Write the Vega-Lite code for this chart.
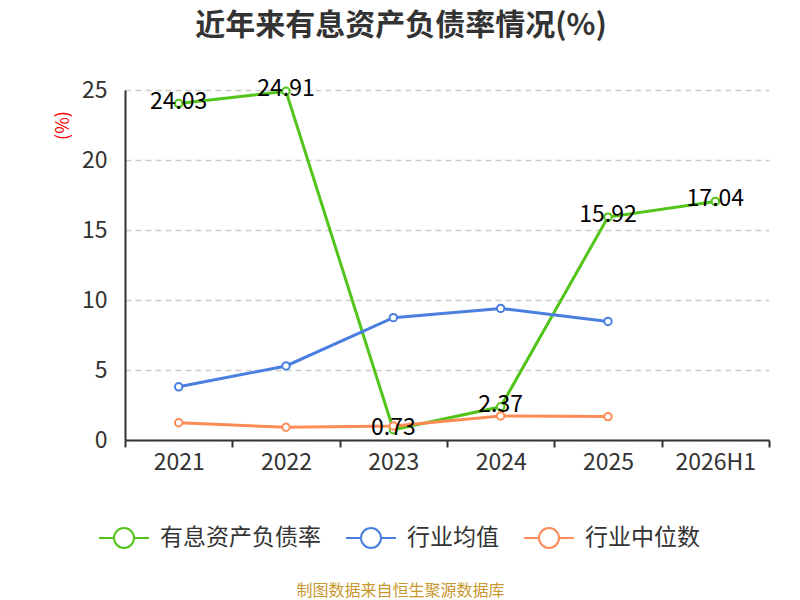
{
  "$schema": "https://vega.github.io/schema/vega-lite/v6.json",
  "width": 644,
  "height": 350,
  "autosize": {"type": "none"},
  "padding": {"left": 125, "top": 90, "right": 31, "bottom": 160},
  "background": "white",
  "config": {
    "font": "Noto Sans CJK SC",
    "view": {"stroke": null}
  },
  "title": {
    "text": "近年来有息资产负债率情况(%)",
    "anchor": "middle",
    "frame": "group",
    "dx": -46,
    "offset": 37,
    "fontSize": 30,
    "fontWeight": "bold",
    "color": "#333333",
    "font": "Noto Sans CJK SC"
  },
  "data": {
    "values": [
      {"year": "2021", "series": "有息资产负债率", "value": 24.03},
      {"year": "2022", "series": "有息资产负债率", "value": 24.91},
      {"year": "2023", "series": "有息资产负债率", "value": 0.73},
      {"year": "2024", "series": "有息资产负债率", "value": 2.37},
      {"year": "2025", "series": "有息资产负债率", "value": 15.92},
      {"year": "2026H1", "series": "有息资产负债率", "value": 17.04},
      {"year": "2021", "series": "行业均值", "value": 3.8},
      {"year": "2022", "series": "行业均值", "value": 5.29},
      {"year": "2023", "series": "行业均值", "value": 8.74},
      {"year": "2024", "series": "行业均值", "value": 9.4},
      {"year": "2025", "series": "行业均值", "value": 8.47},
      {"year": "2021", "series": "行业中位数", "value": 1.23},
      {"year": "2022", "series": "行业中位数", "value": 0.91},
      {"year": "2023", "series": "行业中位数", "value": 1.0},
      {"year": "2024", "series": "行业中位数", "value": 1.72},
      {"year": "2025", "series": "行业中位数", "value": 1.67}
    ]
  },
  "encoding": {
    "x": {
      "field": "year",
      "type": "ordinal",
      "bandPosition": 0.5,
      "scale": {"type": "band", "paddingInner": 0, "paddingOuter": 0, "domain": ["2021", "2022", "2023", "2024", "2025", "2026H1"]},
      "axis": {
        "title": "制图数据来自恒生聚源数据库",
        "titleColor": "#c8982e",
        "titleFontSize": 16,
        "titleFontWeight": "normal",
        "titleX": 275,
        "titleY": 150,
        "titleAlign": "center",
        "titleBaseline": "middle",
        "labelAngle": 0,
        "labelFontSize": 23,
        "labelColor": "#333333",
        "labelPadding": 4,
        "domainColor": "#333333",
        "domainWidth": 2,
        "ticks": true,
        "tickBand": "extent",
        "tickSize": 7,
        "tickColor": "#333333",
        "tickWidth": 2,
        "grid": false
      }
    },
    "y": {
      "field": "value",
      "type": "quantitative",
      "scale": {"domain": [0, 25], "nice": false, "zero": true},
      "axis": {
        "values": [0, 5, 10, 15, 20, 25],
        "title": "(%)",
        "titleColor": "#ff0000",
        "titleFontSize": 18,
        "titleFontWeight": "normal",
        "titleX": -62,
        "titleY": 35,
        "titleAlign": "center",
        "titleBaseline": "middle",
        "labelFontSize": 23,
        "labelColor": "#333333",
        "labelPadding": 18,
        "ticks": false,
        "domain": true,
        "domainColor": "#333333",
        "domainWidth": 2,
        "grid": true,
        "gridColor": "#cccccc",
        "gridDash": [6, 4],
        "gridWidth": 1.5
      }
    },
    "color": {
      "field": "series",
      "type": "nominal",
      "scale": {
        "domain": ["有息资产负债率", "行业均值", "行业中位数"],
        "range": ["#52c41a", "#4a7fe0", "#ff8c57"]
      },
      "legend": {
        "title": null,
        "orient": "none",
        "direction": "horizontal",
        "legendX": -27,
        "legendY": 422,
        "symbolType": "M-1,0L-0.4,0M0.4,0L1,0M-0.4,0A0.4,0.4,0,1,1,0.4,0A0.4,0.4,0,1,1,-0.4,0",
        "symbolSize": 2500,
        "symbolStrokeWidth": 2,
        "symbolFillColor": "white",
        "labelFontSize": 23,
        "labelLimit": 400,
        "labelColor": "#333333",
        "labelOffset": 10,
        "columnPadding": 21
      }
    }
  },
  "layer": [
    {
      "mark": {"type": "line", "strokeWidth": 3}
    },
    {
      "mark": {"type": "point", "filled": false, "fill": "white", "fillOpacity": 1, "size": 55, "strokeWidth": 2, "opacity": 1}
    },
    {
      "transform": [{"filter": "datum.series === '有息资产负债率'"}],
      "mark": {"type": "text", "fontSize": 23, "color": "#000000", "align": "center", "baseline": "middle", "dy": -2},
      "encoding": {
        "text": {"field": "value", "type": "quantitative", "format": ".2f"},
        "color": {"value": "#000000"}
      }
    }
  ]
}
